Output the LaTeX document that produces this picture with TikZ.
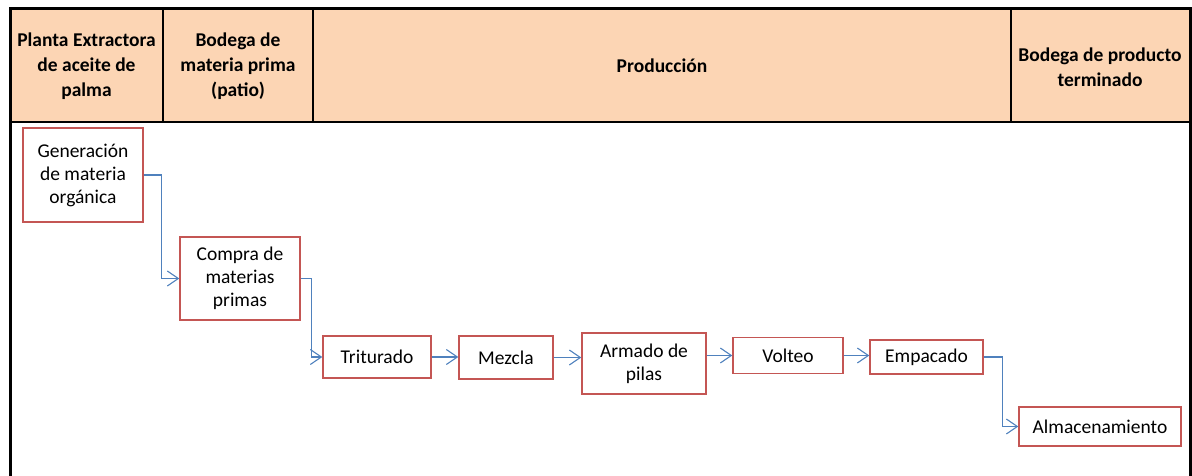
\documentclass[tikz,border=0pt]{standalone}
\usepackage{fontspec}
\setmainfont{Carlito}
\usetikzlibrary{arrows.meta}
\definecolor{cabecera}{RGB}{252,213,180}
\definecolor{borde}{RGB}{196,86,84}
\definecolor{flecha}{RGB}{79,129,189}
\tikzset{
  flujo/.style={
    x=1pt, y=-1pt,
    every node/.style={font=\fontsize{19.5}{23}\selectfont, inner sep=0pt, align=center},
    paso/.style={
        draw=borde,
        line width=1.4pt,
        fill=white,
    },
    titulo/.style={
        font=\fontsize{19.5}{25}\selectfont\bfseries,
    },
    enlace/.style={
        draw=flecha,
        line width=1.1pt,
        -{Straight Barb[length=11pt,width=15pt]},
    },
  }
}

\begin{document}
\begin{tikzpicture}[flujo]
            \useasboundingbox (0,0) rectangle (1192,476);
            \fill[cabecera] (10,9) rectangle (1190,122);
            \draw[line width=2.5pt] (10,122) -- (1190,122);
            \foreach \x in {163,313,1011}
                \draw[line width=2pt] (\x,9) -- (\x,122);
            \draw[line width=3pt] (10,476) -- (10,9) -- (1190,9) -- (1190,476);

            \node[titulo] (planta) at (86.5,66) {Planta Extractora\\de aceite de\\palma};
            \node[titulo] (bodega) at (238,66) {Bodega de\\materia prima\\(patio)};
            \node[titulo] (prod) at (662,66) {Producción};
            \node[titulo] (final) at (1100,67) {Bodega de producto\\terminado};

            \node[paso, minimum width=120pt, minimum height=94pt] (gen) at (83,175) {Generación\\de materia\\orgánica};
            \node[paso, minimum width=120pt, minimum height=83pt] (compra) at (240,278.5) {Compra de\\materias\\primas};
            \node[paso, minimum width=108pt, minimum height=42pt] (trit) at (377,357) {Triturado};
            \node[paso, minimum width=94pt, minimum height=43pt] (mezcla) at (506,357.5) {Mezcla};
            \node[paso, minimum width=124pt, minimum height=61pt] (armado) at (644,363.5) {Armado de\\pilas};
            \node[paso, minimum width=110pt, minimum height=36pt] (volteo) at (788,355.5) {Volteo};
            \node[paso, minimum width=113pt, minimum height=34pt] (empaque) at (926.5,357) {Empacado};
            \node[paso, minimum width=162pt, minimum height=39pt] (almac) at (1100,426.5) {Almacenamiento};

            \draw[enlace] (gen.east) -- ++(18,0) |- (compra.west);
            \draw[enlace] (compra.east) -- ++(11,0) |- (trit.west);
            \draw[enlace] (trit.east) -- (trit.east -| mezcla.west);
            \draw[enlace] (mezcla.east) -- (mezcla.east -| armado.west);
            \draw[enlace] (armado.east |- volteo.west) -- (volteo.west);
            \draw[enlace] (volteo.east) -- (volteo.east -| empaque.west);
            \draw[enlace] (empaque.east) -- ++(19,0) |- (almac.west);
        \end{tikzpicture}
\end{document}
